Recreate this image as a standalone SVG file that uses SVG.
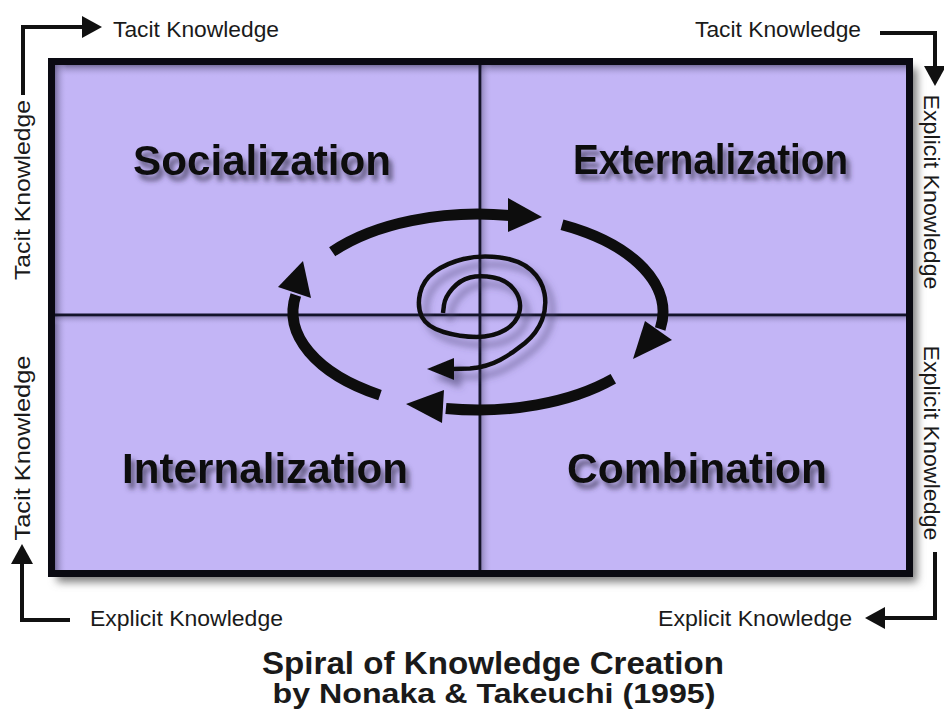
<svg xmlns="http://www.w3.org/2000/svg" width="944" height="715" viewBox="0 0 944 715">
<style>
  .lbl { font-family: "Liberation Sans", Arial, sans-serif; font-size: 22px; fill: #1a1a1a; }
  .quad { font-family: "Liberation Sans", Arial, sans-serif; font-size: 43px; font-weight: bold; fill: #111; }
  .title { font-family: "Liberation Sans", Arial, sans-serif; font-weight: bold; fill: #1a1a1a; text-anchor: middle; }
  .conn { fill: none; stroke: #111; stroke-width: 4; }
  .cyc { fill: none; stroke: #0d0d0d; stroke-width: 11; }
  .cychead { fill: #0d0d0d; }
  .divider { stroke: #14142a; stroke-width: 3; }
</style>
<defs>
  <marker id="ah" viewBox="0 0 20 22" markerWidth="20" markerHeight="22" refX="2" refY="11" orient="auto" markerUnits="userSpaceOnUse">
    <path d="M0,0 L20,11 L0,22 z" fill="#111"/>
  </marker>
  <filter id="boxShadow" x="-5%" y="-5%" width="110%" height="110%">
    <feGaussianBlur stdDeviation="4"/>
  </filter>
  <filter id="txtShadow" x="-10%" y="-40%" width="130%" height="200%">
    <feGaussianBlur in="SourceAlpha" stdDeviation="2.5"/>
    <feOffset dx="4" dy="6" result="o"/>
    <feFlood flood-color="#3a3550" flood-opacity="0.7"/>
    <feComposite in2="o" operator="in" result="s"/>
    <feMerge><feMergeNode in="s"/><feMergeNode in="SourceGraphic"/></feMerge>
  </filter>
  <filter id="spShadow" x="-30%" y="-30%" width="160%" height="160%">
    <feGaussianBlur in="SourceAlpha" stdDeviation="3.5"/>
    <feOffset dx="7" dy="8" result="o"/>
    <feFlood flood-color="#4a4470" flood-opacity="0.6"/>
    <feComposite in2="o" operator="in" result="s"/>
    <feMerge><feMergeNode in="s"/><feMergeNode in="SourceGraphic"/></feMerge>
  </filter>
  <linearGradient id="topShade" x1="0" y1="0" x2="0" y2="1">
    <stop offset="0" stop-color="#6a6390" stop-opacity="0.85"/>
    <stop offset="1" stop-color="#c3b5f6" stop-opacity="0"/>
  </linearGradient>
  <linearGradient id="leftShade" x1="0" y1="0" x2="1" y2="0">
    <stop offset="0" stop-color="#6a6390" stop-opacity="0.85"/>
    <stop offset="1" stop-color="#c3b5f6" stop-opacity="0"/>
  </linearGradient>
</defs>

<rect width="944" height="715" fill="#ffffff"/>

<!-- Matrix box -->
<g id="matrix">
  <rect x="57" y="68" width="860" height="514" fill="#7a7a7a" filter="url(#boxShadow)"/>
  <rect x="51.5" y="61.5" width="858" height="512" fill="#c3b5f6"/>
  <rect x="55" y="65" width="851" height="12" fill="url(#topShade)"/>
  <rect x="55" y="65" width="12" height="505" fill="url(#leftShade)"/>
  <rect x="482" y="65" width="10" height="505" fill="url(#leftShade)" opacity="0.6"/>
  <rect x="55" y="317" width="851" height="8" fill="url(#topShade)" opacity="0.6"/>
  <line class="divider" x1="480" y1="62" x2="480" y2="573"/>
  <line class="divider" x1="52" y1="315" x2="909" y2="315"/>
  <rect x="51.5" y="61.5" width="858" height="512" fill="none" stroke="#0a0a12" stroke-width="7"/>
</g>

<g id="socialization">
  <text class="quad" x="133" y="175" textLength="258" lengthAdjust="spacingAndGlyphs" filter="url(#txtShadow)">Socialization</text>
</g>
<g id="externalization">
  <text class="quad" x="573" y="174" textLength="275" lengthAdjust="spacingAndGlyphs" filter="url(#txtShadow)">Externalization</text>
</g>
<g id="internalization">
  <text class="quad" x="122" y="483" textLength="286" lengthAdjust="spacingAndGlyphs" filter="url(#txtShadow)">Internalization</text>
</g>
<g id="combination">
  <text class="quad" x="567" y="483" textLength="260" lengthAdjust="spacingAndGlyphs" filter="url(#txtShadow)">Combination</text>
</g>

<!-- Cycle arrows -->
<g id="cycle">
  <path class="cyc" d="M332.2,251.7 A185,98 0 0 1 510.1,215.5"/>
  <polygon class="cychead" points="508,198 542,217 508,232"/>
  <path class="cyc" d="M562,224.7 A185,98 0 0 1 660.2,329"/>
  <polygon class="cychead" points="645,321 672,340 633,359"/>
  <path class="cyc" d="M613.3,378.8 A185,98 0 0 1 445.9,408.5"/>
  <polygon class="cychead" points="444,390 406,404 442,423"/>
  <path class="cyc" d="M380,395.1 A185,98 0 0 1 295.8,295"/>
  <polygon class="cychead" points="278,287 303,261 311,298"/>
</g>

<!-- Central spiral -->
<g id="spiral" filter="url(#spShadow)">
  <path fill="none" stroke="#111" stroke-width="4.5" stroke-linejoin="round" d="M443,313 L444,305 Q445,297 452.5,288.5 Q460,280 470,277.5 Q480,275 493.5,277.5 Q507,280 514.5,290 Q522,300 519.5,311.5 Q517,323 505,330 Q493,337 476.5,337 Q460,337 443.5,332 Q427,327 422,317 Q417,307 420,293.5 Q423,280 435,271.5 Q447,263 463.5,259 Q480,255 500,257.5 Q520,260 531,270 Q542,280 544.5,293.5 Q547,307 542,320 Q537,333 525,343 Q513,353 500,360 Q487,367 470,368.5 L452,369"/>
  <polygon fill="#111" points="454,358 427,369 454,380"/>
</g>

<!-- Outer connectors -->
<g id="connectors">
  <path class="conn" d="M23,95 V27 H84" marker-end="url(#ah)"/>
  <path class="conn" d="M880,33 H935 V68" marker-end="url(#ah)"/>
  <path class="conn" d="M70,620 H22 V562" marker-end="url(#ah)"/>
  <path class="conn" d="M935,552 V618 H883" marker-end="url(#ah)"/>
</g>

<!-- Edge labels -->
<g id="labels">
  <text class="lbl" x="113" y="37" textLength="166" lengthAdjust="spacingAndGlyphs">Tacit Knowledge</text>
  <text class="lbl" x="695" y="37" textLength="166" lengthAdjust="spacingAndGlyphs">Tacit Knowledge</text>
  <text class="lbl" x="90" y="626" textLength="193" lengthAdjust="spacingAndGlyphs">Explicit Knowledge</text>
  <text class="lbl" x="658" y="626" textLength="194" lengthAdjust="spacingAndGlyphs">Explicit Knowledge</text>
  <text class="lbl" transform="translate(30,190) rotate(-90)" text-anchor="middle" textLength="180" lengthAdjust="spacingAndGlyphs">Tacit Knowledge</text>
  <text class="lbl" transform="translate(30,448) rotate(-90)" text-anchor="middle" textLength="185" lengthAdjust="spacingAndGlyphs">Tacit Knowledge</text>
  <text class="lbl" transform="translate(924,192) rotate(90)" text-anchor="middle" textLength="195" lengthAdjust="spacingAndGlyphs">Explicit Knowledge</text>
  <text class="lbl" transform="translate(924,443) rotate(90)" text-anchor="middle" textLength="195" lengthAdjust="spacingAndGlyphs">Explicit Knowledge</text>
</g>

<g id="title">
  <text class="title" x="493" y="674" font-size="32" textLength="462" lengthAdjust="spacingAndGlyphs">Spiral of Knowledge Creation</text>
  <text class="title" x="494" y="703" font-size="28" textLength="443" lengthAdjust="spacingAndGlyphs">by Nonaka &amp; Takeuchi (1995)</text>
</g>
</svg>
